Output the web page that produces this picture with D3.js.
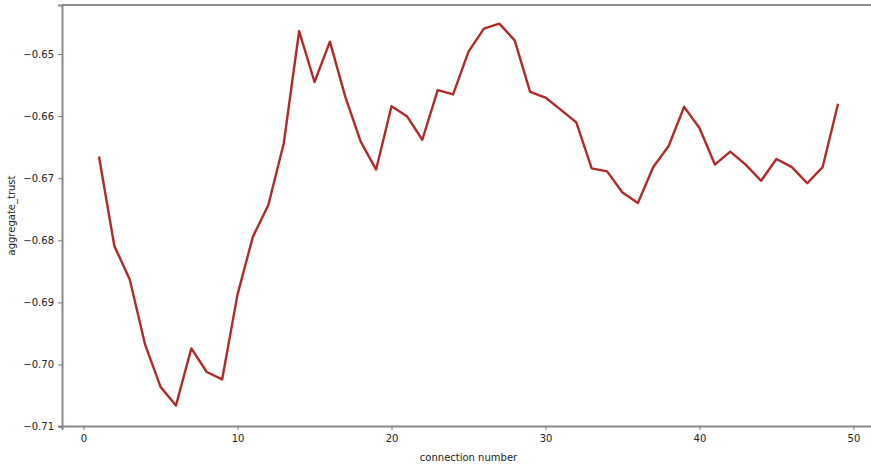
<!DOCTYPE html>
<html>
<head>
<meta charset="utf-8">
<script src="https://cdn.jsdelivr.net/npm/d3@7"></script>
<style>
  html, body { margin: 0; padding: 0; background: #fff; }
  svg { display: block; }
  text { font-family: "DejaVu Sans", sans-serif; fill: #222; }
</style>
</head>
<body>
<svg id="chart" width="871" height="466"></svg>
<script>
// Connection index (x) and aggregate trust after each connection (y)
const connections = d3.range(1, 50);
const aggregateTrust = [
  -0.6665, -0.6809, -0.6863, -0.6968, -0.7036, -0.7066, -0.6974, -0.7012, -0.7024, -0.6887,
  -0.6794, -0.6743, -0.6644, -0.6463, -0.6545, -0.6480, -0.6569, -0.6641, -0.6686, -0.6584,
  -0.6600, -0.6638, -0.6558, -0.6565, -0.6496, -0.6459, -0.6451, -0.6478, -0.6561, -0.6570,
  -0.6590, -0.6610, -0.6684, -0.6689, -0.6723, -0.6740, -0.6682, -0.6648, -0.6585, -0.6619,
  -0.6678, -0.6657, -0.6678, -0.6704, -0.6669, -0.6682, -0.6708, -0.6682, -0.6580
];
const xTicks = [0, 10, 20, 30, 40, 50];
const yTicks = [-0.71, -0.70, -0.69, -0.68, -0.67, -0.66, -0.65];

const svg = d3.select("#chart");
const plot = { left: 62, right: 875, top: 5, bottom: 426 };

const x = d3.scaleLinear().domain([-1.4, 51.4]).range([plot.left, plot.right]);
const y = d3.scaleLinear().domain([-0.7099, -0.6421]).range([plot.bottom, plot.top]);

const fmt = v => d3.format(".2f")(v).replace("-", "\u2212");

// Axes
const xAxis = svg.append("g")
  .attr("transform", `translate(0,${plot.bottom})`)
  .call(d3.axisBottom(x).tickValues(xTicks).tickFormat(d3.format("d")).tickSizeOuter(0).tickSize(4).tickPadding(5));
const yAxis = svg.append("g")
  .attr("transform", `translate(${plot.left},0)`)
  .call(d3.axisLeft(y).tickValues(yTicks).tickFormat(fmt).tickSizeOuter(0).tickSize(4).tickPadding(4));

[xAxis, yAxis].forEach(g => {
  g.select(".domain").attr("stroke", "#8a8a8a").attr("stroke-width", 2);
  g.selectAll(".tick line").attr("stroke", "#777").attr("stroke-width", 1);
  g.selectAll(".tick text").attr("font-size", 10).attr("fill", "#222")
    .attr("font-family", "DejaVu Sans, sans-serif");
});

// Top spine
svg.append("line")
  .attr("x1", plot.left).attr("x2", plot.right).attr("y1", plot.top).attr("y2", plot.top)
  .attr("stroke", "#8a8a8a").attr("stroke-width", 2);

// Trust line
const line = d3.line()
  .x((d, i) => x(connections[i]))
  .y(d => y(d));
svg.append("path")
  .datum(aggregateTrust)
  .attr("d", line)
  .attr("fill", "none")
  .attr("stroke", "#b02a2a")
  .attr("stroke-width", 2.4)
  .attr("stroke-linejoin", "round");

// Axis titles
svg.append("text")
  .attr("x", (plot.left + plot.right) / 2).attr("y", 461)
  .attr("text-anchor", "middle").attr("font-size", 10)
  .text("connection number");
svg.append("text")
  .attr("transform", `translate(15,${(plot.top + plot.bottom) / 2}) rotate(-90)`)
  .attr("text-anchor", "middle").attr("font-size", 10)
  .text("aggregate_trust");
</script>
</body>
</html>
